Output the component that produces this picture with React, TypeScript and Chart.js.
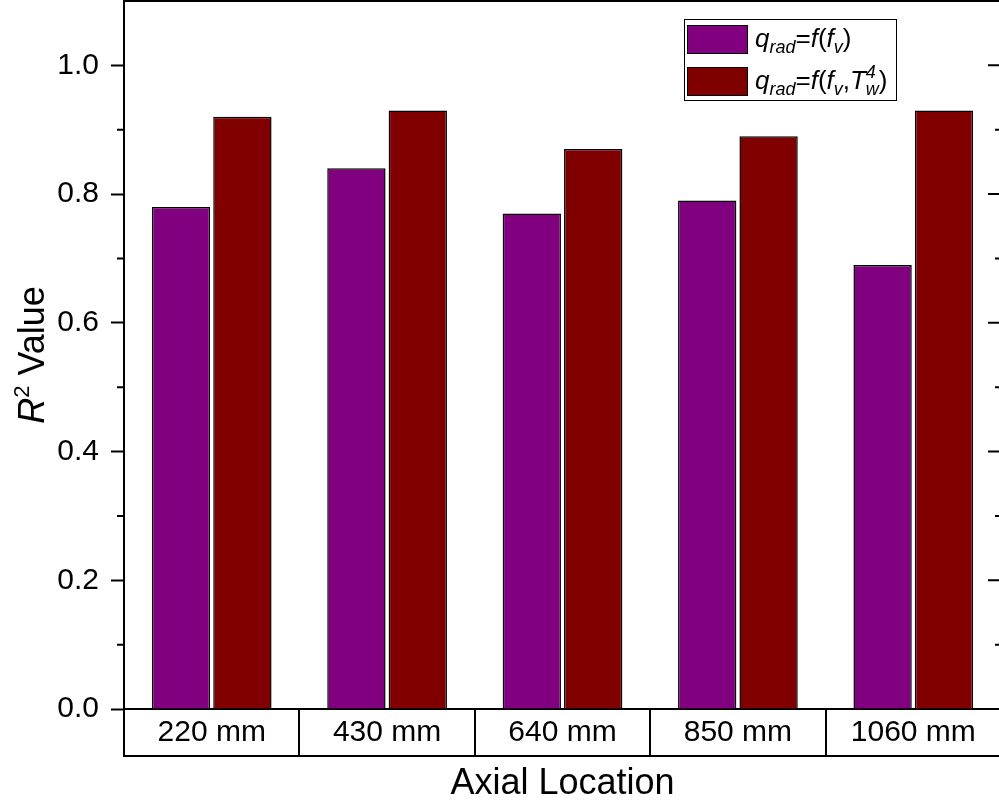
import React, { useEffect, useRef } from "react";
import { Chart, registerables } from "chart.js";

Chart.register(...registerables);

const categories = ["220 mm", "430 mm", "640 mm", "850 mm", "1060 mm"];
const seriesFv = [0.78, 0.84, 0.77, 0.79, 0.69];
const seriesFvTw = [0.92, 0.93, 0.87, 0.89, 0.93];
const seriesNames = ["q_rad=f(f_v)", "q_rad=f(f_v,T_w^4)"];
const seriesColors = ["#800080", "#800000"];
const yMin = 0;
const yMax = 1.1;
const yMajorStep = 0.2;
const yMinorTicks = [0.1, 0.3, 0.5, 0.7, 0.9];
const xTitle = "Axial Location";

type Seg = { t: string; italic?: boolean; sub?: boolean; sup?: boolean; stack?: boolean };

const legendRich: Seg[][] = [
  [
    { t: "q", italic: true },
    { t: "rad", italic: true, sub: true },
    { t: "=" },
    { t: "f", italic: true },
    { t: "(" },
    { t: "f", italic: true },
    { t: "v", italic: true, sub: true },
    { t: ")" },
  ],
  [
    { t: "q", italic: true },
    { t: "rad", italic: true, sub: true },
    { t: "=" },
    { t: "f", italic: true },
    { t: "(" },
    { t: "f", italic: true },
    { t: "v", italic: true, sub: true },
    { t: "," },
    { t: "T", italic: true },
    { t: "4", italic: true, sup: true, stack: true },
    { t: "w", italic: true, sub: true },
    { t: ")" },
  ],
];

const yTitleRich: Seg[] = [
  { t: "R", italic: true },
  { t: "2", sup: true },
  { t: " Value" },
];

const FONT = "'Liberation Sans', Arial, Helvetica, sans-serif";

function drawRich(ctx: CanvasRenderingContext2D, segs: Seg[], x: number, y: number, size: number, measureOnly = false, ratio = 0.66): number {
  const small = Math.round(size * ratio);
  let cx = x;
  let stackStart = -1;
  let stackW = 0;
  for (const s of segs) {
    const sz = s.sub || s.sup ? small : size;
    ctx.font = `${s.italic ? "italic " : ""}${sz}px ${FONT}`;
    const dy = s.sub ? size * 0.22 : s.sup ? -size * 0.42 : 0;
    const w = ctx.measureText(s.t).width;
    if (stackStart >= 0) {
      if (!measureOnly) ctx.fillText(s.t, stackStart, y + dy);
      cx = stackStart + Math.max(stackW, w);
      stackStart = -1;
      continue;
    }
    if (!measureOnly) ctx.fillText(s.t, cx, y + dy);
    if (s.stack) {
      stackStart = cx;
      stackW = w;
    } else {
      cx += w;
    }
  }
  return cx - x;
}

const decorPlugin = {
  id: "decor",
  afterDraw(chart: any) {
    const ctx: CanvasRenderingContext2D = chart.ctx;
    const { left, right, top, bottom } = chart.chartArea;
    const ys = chart.scales.y;
    const xs = chart.scales.x;
    ctx.save();
    ctx.strokeStyle = "#000";
    ctx.fillStyle = "#000";
    ctx.lineWidth = 2;
    // top and right frame
    ctx.beginPath();
    ctx.moveTo(left - 1, top);
    ctx.lineTo(right, top);
    ctx.lineTo(right, bottom);
    ctx.stroke();
    // minor ticks left (outward) and right (inward)
    ctx.beginPath();
    for (const v of yMinorTicks) {
      const py = ys.getPixelForValue(v);
      ctx.moveTo(left - 7, py);
      ctx.lineTo(left, py);
      ctx.moveTo(right - 6, py);
      ctx.lineTo(right, py);
    }
    for (let v = yMin; v <= 1.0001; v += yMajorStep) {
      const py = ys.getPixelForValue(v);
      ctx.moveTo(right - 13, py);
      ctx.lineTo(right, py);
    }
    ctx.stroke();
    // category box bottom line
    const boxBottom = xs.top + 47;
    ctx.beginPath();
    ctx.moveTo(xs.left - 1, boxBottom);
    ctx.lineTo(xs.right + 1, boxBottom);
    ctx.stroke();

    // Y title
    ctx.save();
    ctx.translate(44, (top + bottom) / 2);
    ctx.rotate(-Math.PI / 2);
    ctx.textBaseline = "alphabetic";
    const tsize = 36;
    const tw = drawRich(ctx, yTitleRich, 0, 0, tsize, true, 0.6);
    drawRich(ctx, yTitleRich, -tw / 2, 0, tsize, false, 0.6);
    ctx.restore();

    // Legend
    const lx = 684, ly = 19, lw = 212, lh = 81;
    ctx.fillStyle = "#fff";
    ctx.fillRect(lx, ly, lw, lh);
    ctx.lineWidth = 1;
    ctx.strokeStyle = "#000";
    ctx.strokeRect(lx + 0.5, ly + 0.5, lw, lh);
    const rowCenters = [39, 81];
    chart.data.datasets.forEach((ds: any, i: number) => {
      const cy = rowCenters[i];
      ctx.fillStyle = ds.backgroundColor;
      ctx.fillRect(687, cy - 14, 60, 28);
      ctx.strokeStyle = "#000";
      ctx.lineWidth = 1;
      ctx.strokeRect(687.5, cy - 13.5, 60, 28);
      ctx.fillStyle = "#000";
      ctx.textBaseline = "alphabetic";
      drawRich(ctx, legendRich[i], 755, cy + 8, 26, false, 0.7);
    });
    ctx.restore();
  },
};

export default function App() {
  const ref = useRef<HTMLCanvasElement | null>(null);
  useEffect(() => {
    document.body.style.margin = "0";
    const canvas = ref.current!;
    const chart = new Chart(canvas, {
      type: "bar",
      data: {
        labels: categories,
        datasets: [
          {
            label: seriesNames[0],
            data: seriesFv,
            backgroundColor: seriesColors[0],
            borderColor: "#000",
            borderWidth: 1.5,
          },
          {
            label: seriesNames[1],
            data: seriesFvTw,
            backgroundColor: seriesColors[1],
            borderColor: "#000",
            borderWidth: 1.5,
          },
        ],
      },
      options: {
        animation: false,
        responsive: false,
        devicePixelRatio: 1,
        layout: { padding: { left: 0, right: 9, top: 1, bottom: 0 } },
        datasets: { bar: { categoryPercentage: 0.7, barPercentage: 0.95 } },
        plugins: { legend: { display: false }, tooltip: { enabled: false } },
        scales: {
          x: {
            type: "category",
            offset: true,
            border: { display: true, color: "#000", width: 2 },
            grid: {
              offset: true,
              drawOnChartArea: false,
              drawTicks: true,
              tickLength: 47,
              color: "#000",
              lineWidth: 2,
            },
            ticks: {
              color: "#000",
              font: { family: FONT, size: 30 },
              padding: -41,
              autoSkip: false,
              maxRotation: 0,
              minRotation: 0,
            },
            title: {
              display: true,
              text: xTitle,
              color: "#000",
              font: { family: FONT, size: 36 },
              padding: { top: 0, bottom: 1 },
            },
            afterFit(scale: any) {
              scale.height = 98;
              scale.paddingLeft = 0;
              scale.paddingRight = 0;
            },
          },
          y: {
            min: yMin,
            max: yMax,
            border: { display: true, color: "#000", width: 2 },
            grid: {
              drawOnChartArea: false,
              drawTicks: true,
              tickLength: 13,
              tickColor: "#000",
              tickWidth: 2,
            },
            ticks: {
              stepSize: yMajorStep,
              includeBounds: false,
              color: "#000",
              font: { family: FONT, size: 30 },
              padding: 12,
              callback: (v: any) => Number(v).toFixed(1),
            },
            afterFit(scale: any) {
              scale.width = 124;
              scale.paddingTop = 0;
              scale.paddingBottom = 0;
            },
          },
        },
      } as any,
      plugins: [decorPlugin],
    });
    return () => chart.destroy();
  }, []);
  return (
    <div style={{ position: "fixed", left: 0, top: 0, width: 999, height: 807, overflow: "hidden", background: "#fff" }}>
      <canvas ref={ref} width={1010} height={807} style={{ width: 1010, height: 807, display: "block" }} />
    </div>
  );
}
